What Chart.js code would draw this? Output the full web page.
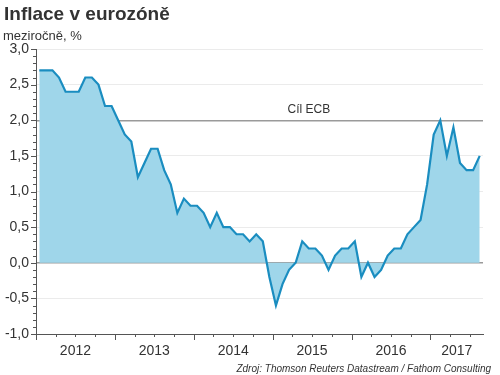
<!DOCTYPE html>
<html>
<head>
<meta charset="utf-8">
<script src="https://cdn.jsdelivr.net/npm/chart.js@4/dist/chart.umd.min.js"></script>
<style>
  html, body { margin: 0; padding: 0; background: #fff; }
  #wrap { width: 500px; height: 375px; position: relative; }
</style>
</head>
<body>
<div id="wrap"><canvas id="inflationChart" width="500" height="375"></canvas></div>
<script>
// meziroční inflace v eurozóně, měsíčně od ledna 2012
const inflation = [
  2.7, 2.7, 2.7, 2.6, 2.4, 2.4, 2.4, 2.6, 2.6, 2.5, 2.2, 2.2,
  2.0, 1.8, 1.7, 1.2, 1.4, 1.6, 1.6, 1.3, 1.1, 0.7, 0.9, 0.8,
  0.8, 0.7, 0.5, 0.7, 0.5, 0.5, 0.4, 0.4, 0.3, 0.4, 0.3, -0.2,
  -0.6, -0.3, -0.1, 0.0, 0.3, 0.2, 0.2, 0.1, -0.1, 0.1, 0.2, 0.2,
  0.3, -0.2, 0.0, -0.2, -0.1, 0.1, 0.2, 0.2, 0.4, 0.5, 0.6, 1.1,
  1.8, 2.0, 1.5, 1.9, 1.4, 1.3, 1.3, 1.5
];
const yearLabels = ['2012', '2013', '2014', '2015', '2016', '2017'];
const ecbTarget = 2.0;
const targetLabel = 'Cíl ECB';
const yMin = -1.0, yMax = 3.0;

const FONT = "'Liberation Sans', Arial, sans-serif";
const textColor = '#333333';
const axisColor = '#555555';
const monthsTotal = inflation.length;

const points = inflation.map((v, i) => ({ x: i + 0.5, y: v }));

const decor = {
    id: 'decor',
    afterDraw(chart) {
        const { ctx, chartArea, scales: { x, y } } = chart;
        ctx.save();
        ctx.strokeStyle = axisColor;
        ctx.lineWidth = 1;

        // drobné značky na ose y po 0,1
        for (let v = Math.round(yMin * 10); v <= Math.round(yMax * 10); v++) {
            const py = Math.round(y.getPixelForValue(v / 10)) + 0.5;
            const len = v % 5 === 0 ? 5 : 3;
            ctx.beginPath();
            ctx.moveTo(chartArea.left - len, py);
            ctx.lineTo(chartArea.left, py);
            ctx.stroke();
        }
        // značky na ose x po čtvrtletích
        for (let m = 0; m <= monthsTotal; m += 3) {
            const px = Math.round(x.getPixelForValue(m)) + 0.5;
            const len = m % 12 === 0 ? 6 : 3;
            ctx.beginPath();
            ctx.moveTo(px, chartArea.bottom);
            ctx.lineTo(px, chartArea.bottom + len);
            ctx.stroke();
        }

        ctx.fillStyle = textColor;
        // popisky let uprostřed viditelné části roku
        ctx.font = '14px ' + FONT;
        ctx.textAlign = 'center';
        ctx.textBaseline = 'alphabetic';
        yearLabels.forEach((label, i) => {
            const a = i * 12;
            const b = Math.min(a + 12, monthsTotal);
            ctx.fillText(label, (x.getPixelForValue(a) + x.getPixelForValue(b)) / 2, chartArea.bottom + 21);
        });

        ctx.textAlign = 'left';
        ctx.font = 'bold 19px ' + FONT;
        ctx.fillText('Inflace v eurozóně', 4, 20);
        ctx.font = '13px ' + FONT;
        ctx.fillText('meziročně, %', 3, 40);

        ctx.font = '12px ' + FONT;
        ctx.textAlign = 'center';
        ctx.fillText(targetLabel, x.getPixelForValue(41.5), y.getPixelForValue(ecbTarget) - 7);

        ctx.font = 'italic 10px ' + FONT;
        ctx.textAlign = 'right';
        ctx.fillText('Zdroj: Thomson Reuters Datastream / Fathom Consulting', 491, 372);
        ctx.restore();
    }
};

new Chart(document.getElementById('inflationChart'), {
    type: 'line',
    data: {
        datasets: [{
            data: points,
            borderColor: '#1a8dc0',
            backgroundColor: '#9fd6ea',
            borderWidth: 2.2,
            pointRadius: 0,
            fill: 'origin',
            tension: 0
        }]
    },
    options: {
        responsive: false,
        animation: false,
        layout: { padding: { top: 49, right: 17, left: 0, bottom: 0 } },
        plugins: { legend: { display: false }, tooltip: { enabled: false } },
        scales: {
            x: {
                type: 'linear',
                min: 0,
                max: monthsTotal,
                afterFit: (scale) => { scale.height = 41; },
                grid: { display: false, drawTicks: false },
                border: { display: true, color: axisColor, width: 1 },
                ticks: { display: false }
            },
            y: {
                min: yMin,
                max: yMax,
                afterFit: (scale) => { scale.width = 36; },
                grid: {
                    drawTicks: false,
                    color: (c) => (c.tick.value === 0 || c.tick.value === ecbTarget ? '#9a9a9a' : '#ebebeb'),
                    lineWidth: (c) => (c.tick.value === 0 || c.tick.value === ecbTarget ? 1.5 : 1)
                },
                border: { display: true, color: axisColor, width: 1 },
                ticks: {
                    stepSize: 0.5,
                    padding: 7,
                    color: textColor,
                    font: { family: FONT, size: 14 },
                    callback: (v) => v.toFixed(1).replace('.', ',')
                }
            }
        }
    },
    plugins: [decor]
});
</script>
</body>
</html>
